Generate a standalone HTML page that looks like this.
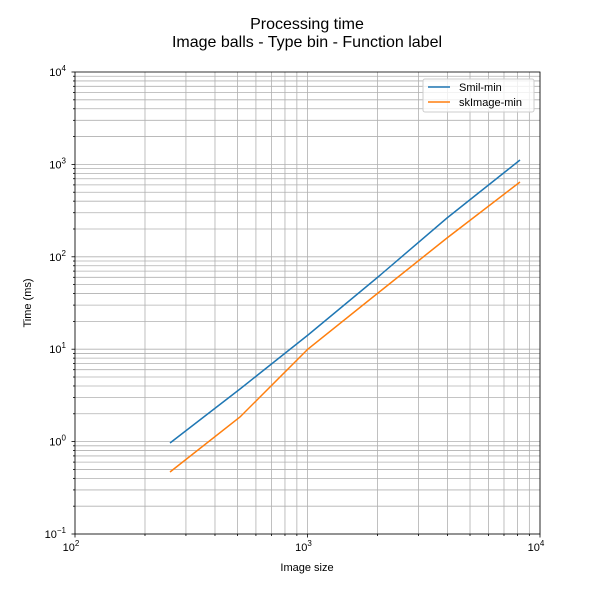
<!DOCTYPE html>
<html><head><meta charset="utf-8"><style>body{margin:0;background:#fff}svg{display:block}text{font-family:"Liberation Sans","DejaVu Sans",sans-serif}</style></head>
<body>
<svg id="s" width="600" height="600" xmlns="http://www.w3.org/2000/svg">
<rect width="600" height="600" fill="#fff"/>
<g id="grid" stroke="#b0b0b0" stroke-width="0.8"></g>
<g id="ticks" stroke="#000" stroke-width="0.8"></g>
<rect x="75" y="72" width="465" height="462" fill="none" stroke="#000" stroke-width="0.8"/>
<polyline fill="none" stroke="#1f77b4" stroke-width="1.5" points="170,443 240,389 308,335 378,277 447,218 520,160"/>
<polyline fill="none" stroke="#ff7f0e" stroke-width="1.5" points="170,472 240,417 308,349 378,293 447,238 520,182"/>
<rect x="423" y="79" width="111" height="33" fill="#fff" fill-opacity="0.8" stroke="#ccc" rx="2"/>
<line x1="428" y1="87" x2="450" y2="87" stroke="#1f77b4" stroke-width="1.5"/>
<text x="459" y="91" font-size="11">Smil-min</text>
<line x1="428" y1="102" x2="450" y2="102" stroke="#ff7f0e" stroke-width="1.5"/>
<text x="459" y="106" font-size="11">skImage-min</text>
<text x="307" y="29" font-size="16" text-anchor="middle">Processing time</text>
<text x="307" y="47" font-size="16" text-anchor="middle">Image balls - Type bin - Function label</text>
<text x="307" y="571" font-size="11" text-anchor="middle">Image size</text>
<text x="31" y="303" font-size="11" text-anchor="middle" transform="rotate(-90 31 303)">Time (ms)</text>
<g id="lab" font-size="11"></g>
</svg>
<script>
var ns="http://www.w3.org/2000/svg",g=document.getElementById('grid'),t=document.getElementById('ticks'),lb=document.getElementById('lab');
function L(p,a,b,c,d){var e=document.createElementNS(ns,'line');e.setAttribute('x1',a);e.setAttribute('y1',b);e.setAttribute('x2',c);e.setAttribute('y2',d);p.appendChild(e);}
function T(x,y,s,anc,sup){var e=document.createElementNS(ns,'text');e.setAttribute('x',x);e.setAttribute('y',y);e.setAttribute('text-anchor',anc);e.innerHTML=s+'<tspan font-size="8" dy="-5">'+sup+'</tspan>';lb.appendChild(e);}
for(var d=0;d<2;d++)for(var k=1;k<10;k++){var x=75+(d+Math.log10(k))*232.5;L(g,x,72,x,534);L(t,x,534,x,534+(k==1?3.5:2));}
L(g,540,72,540,534);L(t,540,534,540,537.5);
for(var d=0;d<5;d++)for(var k=1;k<10;k++){var y=534-(d+Math.log10(k))*92.4;L(g,75,y,540,y);L(t,75,y,75-(k==1?3.5:2),y);}
L(t,75,72,71.5,72);
['2','3','4'].forEach(function(s,i){T(75+i*232.5-4,551,'10','middle',s);});
['−1','0','1','2','3','4'].forEach(function(s,i){T(66,534-i*92.4+4,'10','end',s);});
</script>
</body></html>
